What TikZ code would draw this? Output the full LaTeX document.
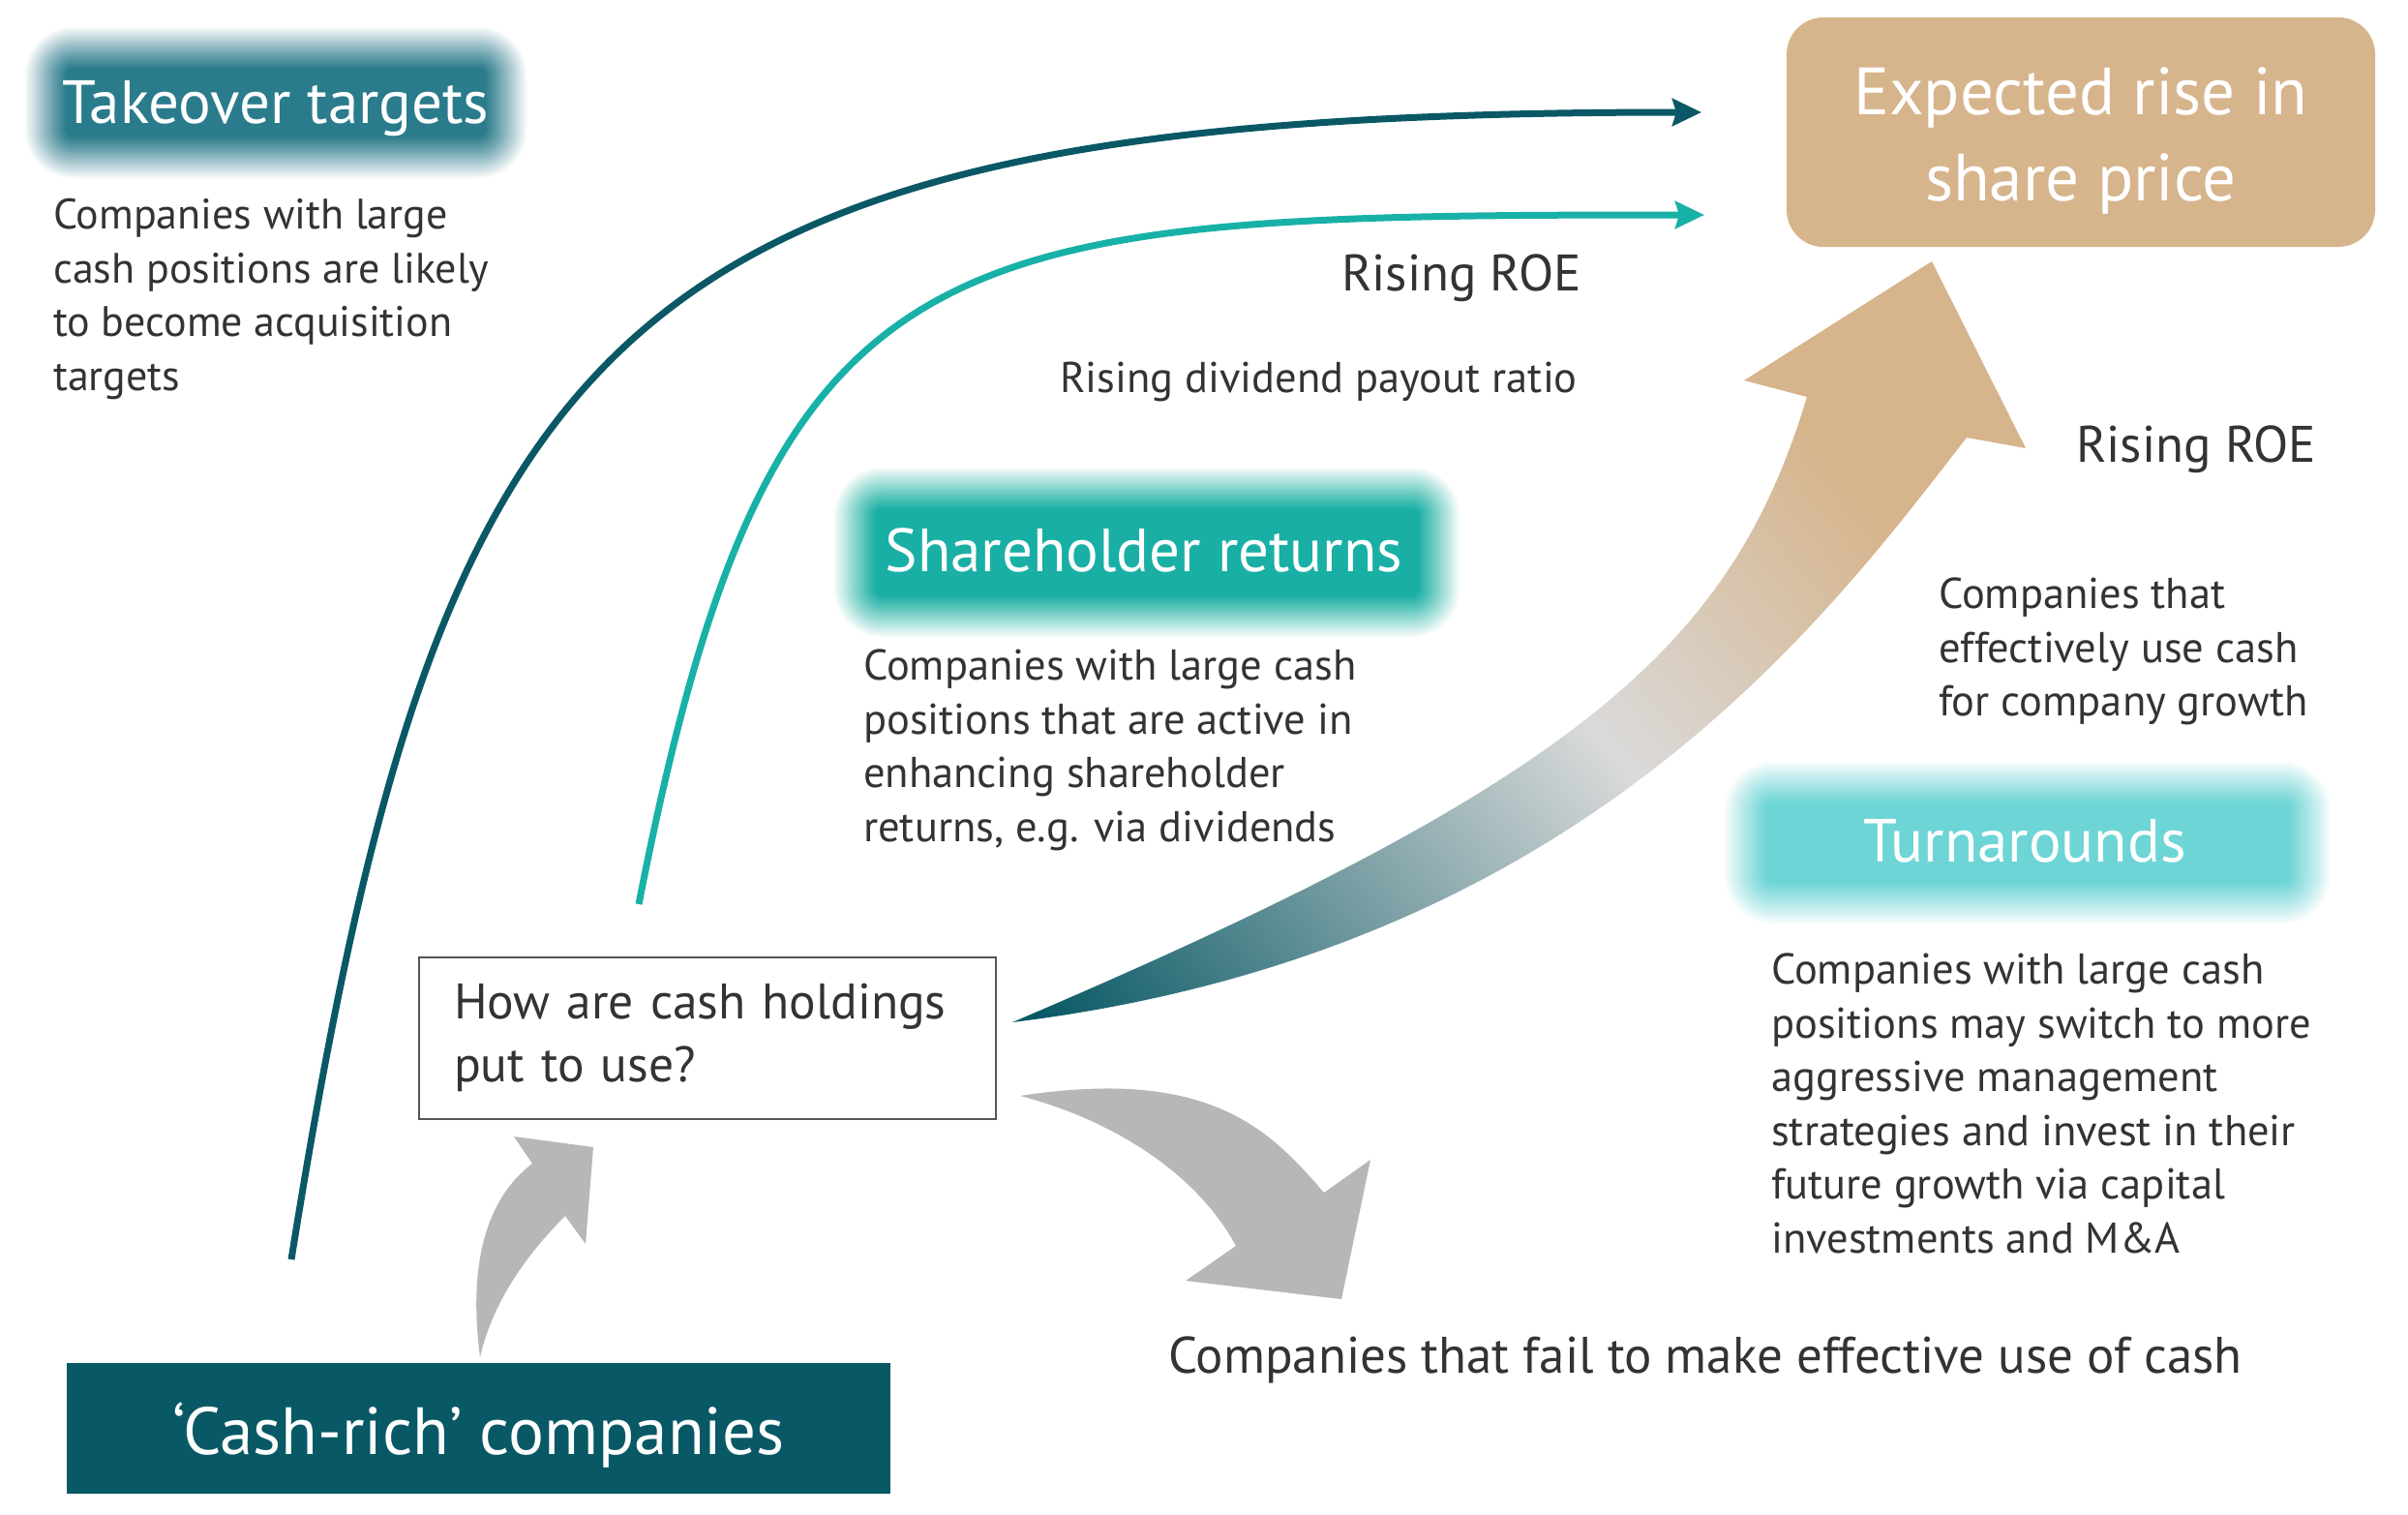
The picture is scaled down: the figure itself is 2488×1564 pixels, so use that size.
\documentclass[tikz,border=0pt]{standalone}
\usepackage{fontspec}
\setmainfont{PT Sans}
\usetikzlibrary{arrows.meta}
\definecolor{tkblue}{HTML}{2A7C8C}
\definecolor{shteal}{HTML}{1AAFA5}
\definecolor{tnteal}{HTML}{6DD5D6}
\definecolor{crteal}{HTML}{085965}
\definecolor{tanbox}{HTML}{D6B48C}
\definecolor{arrgray}{HTML}{B7B7B7}
\definecolor{darkline}{HTML}{0A5866}
\definecolor{tealline}{HTML}{18B1A7}
\definecolor{txt}{HTML}{333333}
\definecolor{midgray}{HTML}{DADADA}
\definecolor{boxline}{HTML}{555555}
\pgfdeclarehorizontalshading{bigarrowshade}{100bp}{color(0bp)=(crteal); color(16bp)=(crteal); color(50bp)=(midgray); color(70bp)=(tanbox); color(100bp)=(tanbox)}

% blurred rounded box: colour, x1, y1, x2, y2, fade width
\newcommand{\blurbox}[6]{%
  \foreach \k in {1,...,20}{%
    \pgfmathsetmacro{\op}{1/(21-\k)}%
    \pgfmathsetmacro{\ex}{#6*(20-\k)/19}%
    \pgfmathsetmacro{\rc}{\ex+8}%
    \fill[#1, fill opacity=\op, rounded corners=\rc pt] (#2-\ex,#3-\ex) rectangle (#4+\ex,#5+\ex);
  }}

\tikzset{
  hdr/.style={anchor=base, text=white, inner sep=0pt, font=\fontsize{63}{70}\selectfont},
  body/.style={anchor=north west, text=txt, inner sep=0pt, align=left, font=\fontsize{44.5}{55.5}\selectfont},
  lbl/.style={text=txt, inner sep=0pt, font=\fontsize{53}{60}\selectfont},
  smalllbl/.style={text=txt, inner sep=0pt, font=\fontsize{44.5}{55}\selectfont},
  flowline/.style={line width=7pt, -{Stealth[length=30pt,width=28pt,inset=4pt]}},
}

\begin{document}
\begin{tikzpicture}[x=1pt,y=-1pt]
\useasboundingbox (0,0) rectangle (2488,1564);
\fill[white] (0,0) rectangle (2488,1564);

% ---------- named anchor points of the connectors
\coordinate (dstart) at (301,1301);
\coordinate (dend)   at (1758,116);
\coordinate (tstart) at (660,934);
\coordinate (tend)   at (1761,222);

% ---------- curved flow lines
\draw[flowline, darkline] (dstart) .. controls (457,326) and (630,116) .. (dend);
\draw[flowline, tealline] (tstart) .. controls (797,234) and (961,222) .. (tend);

% ---------- blurred header boxes
\blurbox{tkblue}{68}{70}{502}{142}{42}
\node[hdr] (takeover) at (285,127) {Takeover targets};

\blurbox{shteal}{904}{525}{1466}{616}{42}
\node[hdr] (sharehold) at (1182,590) {Shareholder returns};

\blurbox{tnteal}{1824}{829}{2366}{912}{42}
\node[hdr] (turnaround) at (2092,890) {Turnarounds};

% ---------- solid boxes
\node[fill=tanbox, rounded corners=38pt, minimum width=608pt, minimum height=237pt, inner sep=0pt] (expected) at (2150,136.5) {};
\node[text=white, inner sep=0pt, align=center, font=\fontsize{69}{89}\selectfont] (exptext) at (2150,145) {Expected rise in\\share price};

\node[fill=crteal, minimum width=851pt, minimum height=135pt, inner sep=0pt, text=white,
      font=\fontsize{69}{80}\selectfont, text height=60pt, text depth=7pt] (cashrich) at (494.5,1475.5) {‘Cash-rich’ companies};

\node[draw=boxline, line width=2pt, minimum width=596pt, minimum height=167pt, inner xsep=36pt, inner ysep=0pt,
      text width=524pt, align=left, text=txt, font=\fontsize{51.5}{65}\selectfont] (how) at (731,1072) {How are cash holdings\\put to use?};

% ---------- body texts
\node[body, font=\fontsize{44}{55.5}\selectfont] (tkbody) at (55,205) {Companies with large\\cash positions are likely\\to become acquisition\\targets};
\node[body] (shbody) at (892,671) {Companies with large cash\\positions that are active in\\enhancing shareholder\\returns, e.g. via dividends};
\node[body] (growbody) at (2003,597) {Companies that\\effectively use cash\\for company growth};
\node[body] (tnbody) at (1830,985) {Companies with large cash\\positions may switch to more\\aggressive management\\strategies and invest in their\\future growth via capital\\investments and M\&A};

\node[lbl, anchor=base east] (roe1) at (1634,300) {Rising ROE};
\node[smalllbl, anchor=base east] (divpay) at (1630,405) {Rising dividend payout ratio};
\node[lbl, anchor=base west] (roe2) at (2145,477) {Rising ROE};
\node[lbl, anchor=base west] (fail) at (1207,1418) {Companies that fail to make effective use of cash};

% ---------- big gradient arrow: how -> expected
\shade[shading=bigarrowshade, shading angle=40]
  (1046,1056) .. controls (1633,806) and (1789,668) .. (1867,410)
  -- (1802,393) -- (1996,270) -- (2093,463) -- (2032,452)
  .. controls (1885,641) and (1633.5,983.5) .. (1046,1056) -- cycle;

% ---------- grey arrow: how -> companies that fail
\fill[arrgray]
  (1054,1132) .. controls (1250,1102) and (1312,1167) .. (1368,1232)
  -- (1416,1198) -- (1386,1342) -- (1225,1323) -- (1277,1287)
  .. controls (1236.5,1212) and (1150,1157) .. (1054,1132) -- cycle;

% ---------- grey arrow: cash-rich -> how
\fill[arrgray]
  (496,1402) .. controls (484,1310) and (500,1240) .. (550,1202)
  -- (531,1174) -- (613,1185) -- (605,1285) -- (584,1256)
  .. controls (550,1290) and (510,1340) .. (496,1402) -- cycle;
\end{tikzpicture}
\end{document}
